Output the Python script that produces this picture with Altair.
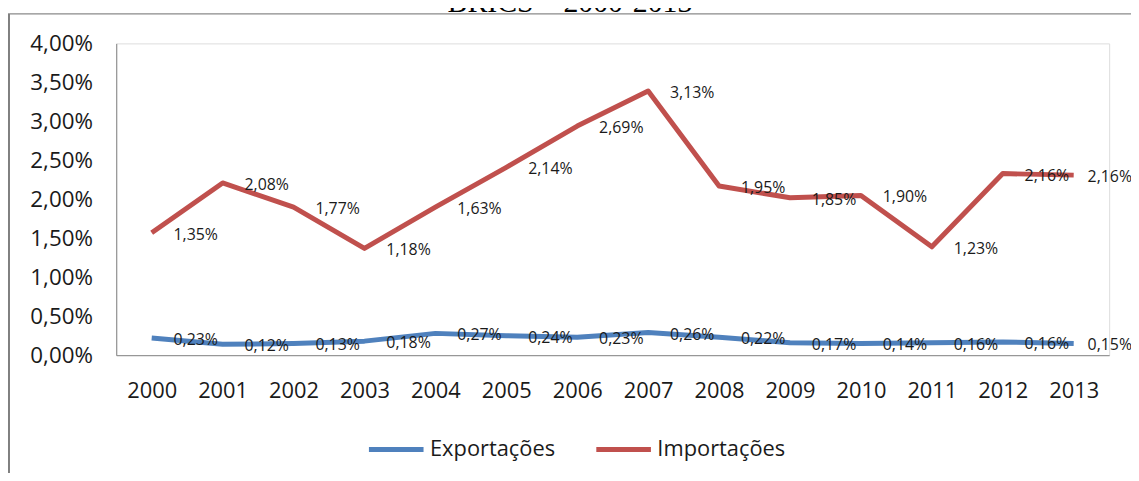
import altair as alt
import pandas as pd

years = [str(y) for y in range(2000, 2014)]
series = ["Exportações", "Importações"]
colors = ["#4F81BD", "#C0504D"]
exportacoes = [0.22, 0.14, 0.15, 0.18, 0.28, 0.25, 0.23, 0.29, 0.23, 0.16, 0.15, 0.16, 0.17, 0.15]
importacoes = [1.57, 2.21, 1.90, 1.37, 1.90, 2.41, 2.94, 3.39, 2.17, 2.02, 2.05, 1.39, 2.33, 2.31]
exp_labels = ["0,23%", "0,12%", "0,13%", "0,18%", "0,27%", "0,24%", "0,23%",
              "0,26%", "0,22%", "0,17%", "0,14%", "0,16%", "0,16%", "0,15%"]
imp_labels = ["1,35%", "2,08%", "1,77%", "1,18%", "1,63%", "2,14%", "2,69%",
              "3,13%", "1,95%", "1,85%", "1,90%", "1,23%", "2,16%", "2,16%"]
y_ticks = [0, 0.5, 1.0, 1.5, 2.0, 2.5, 3.0, 3.5, 4.0]
title_text = "BRICS – 2000-2013"

rows = []
for name, vals, labs in [(series[0], exportacoes, exp_labels), (series[1], importacoes, imp_labels)]:
    for yr, v, lb in zip(years, vals, labs):
        rows.append({"year": yr, "series": name, "value": v, "label": lb})
df = pd.DataFrame(rows)

W, H = 1000, 314
FONT = "Open Sans"

x_enc = alt.X("year:O", sort=years,
              scale=alt.Scale(type="point", padding=0.5),
              axis=alt.Axis(title=None, labelAngle=0, ticks=False, tickSize=0,
                            labelPadding=26, labelFontSize=22, labelFont=FONT,
                            labelColor="#1a1a1a", domainColor="#868686",
                            domainWidth=1, grid=False))
y_enc = alt.Y("value:Q",
              scale=alt.Scale(domain=[0, 4], nice=False, zero=True),
              axis=alt.Axis(title=None, values=y_ticks, grid=False, ticks=False,
                            tickSize=0,
                            labelExpr="replace(format(datum.value, '.2f'), '.', ',') + '%'",
                            labelPadding=24, labelFontSize=22.5, labelFont=FONT,
                            labelColor="#1a1a1a", domainColor="#868686",
                            domainWidth=1))

base = alt.Chart(df)

lines = base.mark_line(strokeWidth=5, strokeJoin="round").encode(
    x=x_enc, y=y_enc,
    color=alt.Color("series:N", sort=series,
                    scale=alt.Scale(domain=series, range=colors),
                    legend=alt.Legend(title=None, orient="none", legendX=252,
                                      legendY=379, direction="horizontal",
                                      symbolType="stroke", symbolSize=3025,
                                      symbolStrokeWidth=5, labelFontSize=22,
                                      labelFont=FONT, labelColor="#1a1a1a",
                                      labelOffset=4, columnPadding=30,
                                      padding=0)),
    detail="series:N",
)

labels = base.mark_text(align="left", baseline="middle", dx=22, dy=2,
                        fontSize=16, font=FONT, color="#1a1a1a").encode(
    x=x_enc, y=y_enc, text="label:N"
).transform_filter(alt.datum.year != years[-1])

last_labels = base.mark_text(align="left", baseline="middle", dx=14, dy=2,
                             fontSize=16, font=FONT, color="#1a1a1a").encode(
    x=x_enc, y=y_enc, text="label:N"
).transform_filter(alt.datum.year == years[-1])

one = pd.DataFrame({"t": [title_text]})
title = alt.Chart(one).mark_text(font="Liberation Serif", fontSize=30,
                                 align="center", baseline="alphabetic",
                                 color="#000000").encode(
    x=alt.value(457), y=alt.value(-31.5), text="t:N")

frame_top = alt.Chart(one).mark_rule(color="#8a8a8a", strokeWidth=1.2).encode(
    x=alt.value(-109), x2=alt.value(1022), y=alt.value(-29.7))
frame_left = alt.Chart(one).mark_rule(color="#808080", strokeWidth=2).encode(
    x=alt.value(-108), y=alt.value(-29.7), y2=alt.value(439))

chart = alt.layer(frame_top, frame_left, title, lines, labels, last_labels).properties(
    width=W, height=H,
    autosize=alt.AutoSizeParams(type="none"),
    padding={"left": 109, "top": 34, "right": 22, "bottom": 117},
).configure_view(stroke=None).configure(background="white")

chart.save("out.html", embed_options={"renderer": "svg", "actions": False})
